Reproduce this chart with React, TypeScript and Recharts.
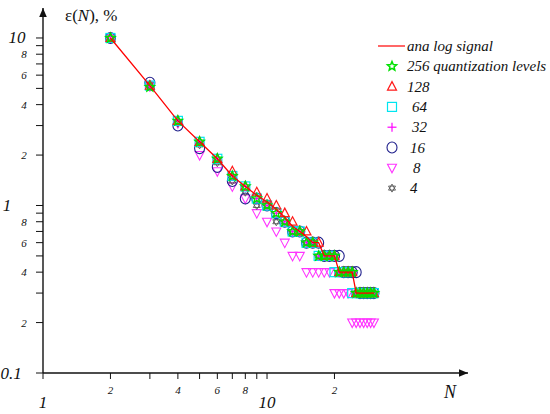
import React from "react";
import { ScatterChart, Scatter, XAxis, YAxis, ReferenceDot, Legend } from "recharts";

// number of samples N
const nValues = [2, 3, 4, 5, 6, 7, 8, 9, 10, 11, 12, 13, 14, 15, 16, 17, 18, 19, 20, 21, 22, 23, 24, 25, 26, 27, 28, 29, 30];

// error eps(N), %
const analogSignal = [10, 5.2, 3.2, 2.4, 1.9, 1.5, 1.3, 1.15, 1.05, 0.95, 0.85, 0.75, 0.7, 0.65, 0.6, 0.6, 0.5, 0.5, 0.5, 0.4, 0.4, 0.4, 0.4, 0.3, 0.3, 0.3, 0.3, 0.3, 0.3];
const levels256 = [10, 5.1, 3.2, 2.4, 1.9, 1.5, 1.3, 1.1, 1.0, 0.9, 0.8, 0.7, 0.7, 0.6, 0.6, 0.5, 0.5, 0.5, 0.5, 0.4, 0.4, 0.4, 0.4, 0.3, 0.3, 0.3, 0.3, 0.3, 0.3];
const levels128 = [10, 5.2, 3.2, 2.4, 1.9, 1.6, 1.3, 1.2, 1.1, 1.0, 0.9, 0.8, 0.7, 0.7, 0.6, 0.6, 0.5, 0.5, 0.5, 0.4, 0.4, 0.4, 0.4, 0.3, 0.3, 0.3, 0.3, 0.3, 0.3];
const levels64 = [10, 5.2, 3.2, 2.4, 1.9, 1.5, 1.3, 1.1, 1.0, 0.9, 0.8, 0.7, 0.7, 0.6, 0.6, 0.5, 0.5, 0.5, 0.4, 0.4, 0.4, 0.4, 0.3, 0.3, 0.3, 0.3, 0.3, 0.3, 0.3];
const levels32 = [10, 5.1, 3.2, 2.4, 1.9, 1.5, 1.3, 1.1, 1.0, 0.9, 0.8, 0.7, 0.7, 0.6, 0.6, 0.5, 0.5, 0.5, 0.5, 0.4, 0.4, 0.4, 0.4, 0.3, 0.3, 0.3, 0.3, 0.3, 0.3];
const levels16 = [10, 5.4, 3.0, 2.2, 1.7, 1.4, 1.1, 1.1, 1.0, 0.9, 0.8, 0.7, 0.7, 0.6, 0.6, 0.6, 0.5, 0.5, 0.5, 0.5, 0.4, 0.4, 0.4, 0.4, 0.3, 0.3, 0.3, 0.3, 0.3];
const levels8 = [10, 5.2, 3.1, 2.0, 1.6, 1.3, 1.1, 0.9, 0.8, 0.7, 0.6, 0.5, 0.5, 0.4, 0.4, 0.4, 0.4, 0.4, 0.3, 0.3, 0.3, 0.3, 0.2, 0.2, 0.2, 0.2, 0.2, 0.2, 0.2];
const levels4 = [10, 5.3, 3.1, 2.3, 1.8, 1.4, 1.2, 1.0, 1.0, 0.8, 0.8, 0.7, 0.7, 0.6, 0.6, 0.5, 0.5, 0.5, 0.5, 0.4, 0.4, 0.4, 0.4, 0.3, 0.3, 0.3, 0.3, 0.3, 0.3];

const xTicks = [1, 2, 3, 4, 5, 6, 7, 8, 9, 10, 20];
const yTicks = [0.1, 0.2, 0.3, 0.4, 0.5, 0.6, 0.7, 0.8, 0.9, 1, 2, 3, 4, 5, 6, 7, 8, 9, 10];

const X_MAX = 78.9;
const Y_MAX = 15.1;
const FONT = '"Liberation Serif", "Times New Roman", serif';
const INK = "#111";

const toPoints = (vals: number[]) => nValues.map((n, i) => ({ n, v: vals[i] }));

// marker glyphs
const starPts = (cx: number, cy: number, r: number) => {
  const pts: string[] = [];
  for (let k = 0; k < 10; k++) {
    const a = -Math.PI / 2 + (k * Math.PI) / 5;
    const rr = k % 2 === 0 ? r : r * 0.45;
    pts.push(`${cx + rr * Math.cos(a)},${cy + rr * Math.sin(a)}`);
  }
  return pts.join(" ");
};

const Marker = ({ kind, cx, cy }: { kind: string; cx: number; cy: number }) => {
  switch (kind) {
    case "star":
      return <polygon points={starPts(cx, cy, 4.8)} fill="none" stroke="#00e000" strokeWidth={1.5} />;
    case "triUp":
      return <polygon points={`${cx},${cy - 5} ${cx + 4.5},${cy + 3.5} ${cx - 4.5},${cy + 3.5}`} fill="none" stroke="#ff1a1a" strokeWidth={1.2} />;
    case "square":
      return <rect x={cx - 4.5} y={cy - 4.5} width={9} height={9} fill="none" stroke="#00e5f0" strokeWidth={1.2} />;
    case "plus":
      return (
        <g stroke="#ff00ff" strokeWidth={1.2}>
          <line x1={cx - 4.5} y1={cy} x2={cx + 4.5} y2={cy} />
          <line x1={cx} y1={cy - 4.5} x2={cx} y2={cy + 4.5} />
        </g>
      );
    case "circle":
      return <ellipse cx={cx} cy={cy} rx={5} ry={5.5} fill="none" stroke="#20208c" strokeWidth={1.1} />;
    case "triDown":
      return <polygon points={`${cx - 4.5},${cy - 3.5} ${cx + 4.5},${cy - 3.5} ${cx},${cy + 5}`} fill="none" stroke="#ff33ff" strokeWidth={1.1} />;
    case "hex":
      return (
        <g fill="none" stroke="#555" strokeWidth={0.9}>
          <polygon points={`${cx},${cy - 4} ${cx + 3.5},${cy + 2} ${cx - 3.5},${cy + 2}`} />
          <polygon points={`${cx},${cy + 4} ${cx + 3.5},${cy - 2} ${cx - 3.5},${cy - 2}`} />
        </g>
      );
    default:
      return <g />;
  }
};

const shapeOf = (kind: string) => (p: any) => <Marker kind={kind} cx={p.cx} cy={p.cy} />;

const legendRows = [
  { label: "ana log signal", kind: "line", dx: 0 },
  { label: "256 quantization levels", kind: "star", dx: 0 },
  { label: "128", kind: "triUp", dx: 0 },
  { label: "64", kind: "square", dx: 5 },
  { label: "32", kind: "plus", dx: 5 },
  { label: "16", kind: "circle", dx: 3 },
  { label: "8", kind: "triDown", dx: 6 },
  { label: "4", kind: "hex", dx: 3 },
];

const renderLegend = () => (
  <svg width={185} height={165}>
    {legendRows.map((row, i) => {
      const cy = 10 + i * 20.3;
      return (
        <g key={row.label}>
          {row.kind === "line" ? (
            <line x1={8} y1={cy} x2={35} y2={cy} stroke="#ff0000" strokeWidth={1.2} />
          ) : (
            <Marker kind={row.kind} cx={22} cy={cy} />
          )}
          <text x={37 + row.dx} y={cy} dominantBaseline="central" fontFamily={FONT} fontStyle="italic" fontSize={15} fill={INK}>
            {row.label}
          </text>
        </g>
      );
    })}
  </svg>
);

const XTick = ({ x, payload }: any) => {
  const v = payload.value;
  if (v === 1 || v === 10) {
    return (
      <text x={x} y={402} textAnchor="middle" dominantBaseline="central" fontFamily={FONT} fontStyle="italic" fontSize={17} fill={INK}>
        {v}
      </text>
    );
  }
  if (v === 2 || v === 4 || v === 6 || v === 8 || v === 20) {
    return (
      <text x={x} y={390} textAnchor="middle" dominantBaseline="central" fontFamily={FONT} fontStyle="italic" fontSize={11} fill={INK}>
        {v === 20 ? 2 : v}
      </text>
    );
  }
  return <g />;
};

const bigY: Record<string, [string, number]> = { "10": ["10", 17], "1": ["1", 7], "0.1": ["0.1", 11] };
const smallY: Record<string, string> = { "0.2": "2", "0.4": "4", "0.6": "6", "0.8": "8", "2": "2", "4": "4", "6": "6", "8": "8" };

const YTick = ({ y, payload }: any) => {
  const key = String(payload.value);
  if (bigY[key]) {
    return (
      <text x={bigY[key][1]} y={y} textAnchor="middle" dominantBaseline="central" fontFamily={FONT} fontStyle="italic" fontSize={17} fill={INK}>
        {bigY[key][0]}
      </text>
    );
  }
  if (smallY[key]) {
    return (
      <text x={24} y={y} textAnchor="middle" dominantBaseline="central" fontFamily={FONT} fontStyle="italic" fontSize={11} fill={INK}>
        {smallY[key]}
      </text>
    );
  }
  return <g />;
};

const ArrowRight = (p: any) => (
  <polygon points={`${p.cx},${p.cy} ${p.cx - 9},${p.cy - 3.8} ${p.cx - 9},${p.cy + 3.8}`} fill={INK} />
);
const ArrowUp = (p: any) => (
  <polygon points={`${p.cx},${p.cy} ${p.cx - 3.8},${p.cy + 9} ${p.cx + 3.8},${p.cy + 9}`} fill={INK} />
);

const App = () => {
  return (
    <div style={{ position: "absolute", left: 0, top: 0, background: "#fff" }}>
      <ScatterChart width={550} height={414} margin={{ top: 8, right: 82, bottom: 0, left: 0 }}>
        <XAxis
          type="number"
          dataKey="n"
          scale="log"
          domain={[1, X_MAX]}
          allowDataOverflow
          ticks={xTicks}
          interval={0}
          tickSize={6}
          height={41}
          stroke={INK}
          axisLine={{ stroke: INK, strokeWidth: 1.4 }}
          tick={<XTick />}
          label={{
            content: () => (
              <text x={450} y={392} textAnchor="middle" dominantBaseline="central" fontFamily={FONT} fontStyle="italic" fontSize={18} fill={INK}>
                N
              </text>
            ),
          }}
        />
        <YAxis
          type="number"
          dataKey="v"
          scale="log"
          domain={[0.1, Y_MAX]}
          allowDataOverflow
          ticks={yTicks}
          interval={0}
          tickSize={7}
          width={43}
          stroke={INK}
          axisLine={{ stroke: INK, strokeWidth: 1.4 }}
          tick={<YTick />}
          label={{
            content: () => (
              <text x={65} y={15} dominantBaseline="central" fontFamily={FONT} fontSize={17} fill={INK}>
                ε(<tspan fontStyle="italic">N</tspan>), %
              </text>
            ),
          }}
        />
        <Legend layout="vertical" align="center" verticalAlign="middle" content={renderLegend} wrapperStyle={{ position: "absolute", left: 370, top: 36, width: 185, height: 165 }} />
        <Scatter name="8" data={toPoints(levels8)} shape={shapeOf("triDown")} isAnimationActive={false} />
        <Scatter name="4" data={toPoints(levels4)} shape={shapeOf("hex")} isAnimationActive={false} />
        <Scatter name="16" data={toPoints(levels16)} shape={shapeOf("circle")} isAnimationActive={false} />
        <Scatter name="64" data={toPoints(levels64)} shape={shapeOf("square")} isAnimationActive={false} />
        <Scatter name="32" data={toPoints(levels32)} shape={shapeOf("plus")} isAnimationActive={false} />
        <Scatter name="128" data={toPoints(levels128)} shape={shapeOf("triUp")} isAnimationActive={false} />
        <Scatter name="256 quantization levels" data={toPoints(levels256)} shape={shapeOf("star")} isAnimationActive={false} />
        <Scatter
          name="analog signal"
          data={toPoints(analogSignal)}
          line={{ stroke: "#ff0000", strokeWidth: 1.3 }}
          shape={() => <g />}
          isAnimationActive={false}
        />
        <ReferenceDot x={X_MAX} y={0.1} ifOverflow="visible" shape={ArrowRight} />
        <ReferenceDot x={1} y={Y_MAX} ifOverflow="visible" shape={ArrowUp} />
      </ScatterChart>
    </div>
  );
};

export default App;
